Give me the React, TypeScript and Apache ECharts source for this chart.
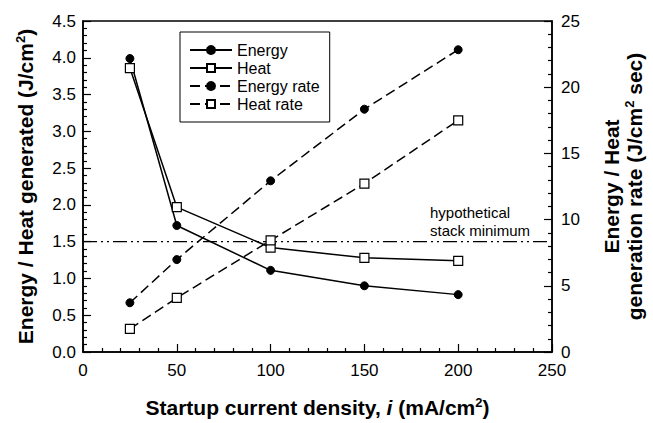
import React, { useEffect, useRef } from 'react';
import * as echarts from 'echarts';

const xValues = [25, 50, 100, 150, 200];
const energy = [3.99, 1.72, 1.11, 0.9, 0.78];
const heat = [3.86, 1.97, 1.42, 1.28, 1.24];
const energyRate = [3.72, 6.98, 12.93, 18.34, 22.83];
const heatRate = [1.75, 4.09, 8.43, 12.72, 17.5];
const stackMinimum = 1.5;
const xRange = [0, 250];
const legendNames = ['Energy', 'Heat', 'Energy rate', 'Heat rate'];

const FONT = '"Liberation Sans", Arial, Helvetica, sans-serif';

export default function App() {
  const ref = useRef<HTMLDivElement>(null);
  useEffect(() => {
    if (!ref.current) return;
    const chart = echarts.init(ref.current, undefined, { renderer: 'svg' });
    const pts = (ys: number[]) => xValues.map((x, i) => [x, ys[i]]);
    const solid = { color: '#000', width: 1.5 };
    const dashed = { color: '#000', width: 1.5, type: [10, 5] as any };
    const circleStyle = { color: '#000', borderColor: '#000', borderWidth: 1 };
    const squareStyle = { color: '#fff', borderColor: '#000', borderWidth: 1.2 };
    const titleRich = {
      b: { fontSize: 21, fontWeight: 'bold', fontFamily: FONT, color: '#000', lineHeight: 23 },
      i: { fontSize: 21, fontWeight: 'bold', fontStyle: 'italic', fontFamily: FONT, color: '#000', lineHeight: 23 },
      s: { fontSize: 13, fontWeight: 'bold', fontFamily: FONT, color: '#000', verticalAlign: 'top', lineHeight: 12 },
    };
    const labelStyle = { fontSize: 17, fontFamily: FONT, color: '#000' };
    chart.setOption({
      animation: false,
      backgroundColor: '#fff',
      grid: { left: 83, right: 94, top: 21, bottom: 68, show: true, borderColor: '#000', borderWidth: 1.5, backgroundColor: 'transparent' },
      legend: {
        data: legendNames,
        orient: 'vertical',
        left: 180,
        top: 32,
        padding: [10, 10, 10, 9],
        itemGap: 2,
        itemWidth: 42,
        itemHeight: 10,
        borderColor: '#000',
        borderWidth: 1,
        backgroundColor: '#fff',
        textStyle: { fontSize: 16, fontFamily: FONT, color: '#000' },
      },
      xAxis: {
        type: 'value',
        min: xRange[0],
        max: xRange[1],
        interval: 50,
        name: '{b|Startup current density, }{i|i}{b| (mA/cm}{s|2}{b|)}',
        nameLocation: 'middle',
        nameGap: 44,
        nameTextStyle: { rich: titleRich },
        axisLine: { lineStyle: { color: '#000', width: 1.5 } },
        axisTick: { inside: true, length: 8, lineStyle: { color: '#000', width: 1.2 } },
        minorTick: { show: true, splitNumber: 5, length: 4, lineStyle: { color: '#000', width: 1.2 } },
        axisLabel: { ...labelStyle, margin: 10 },
        splitLine: { show: false },
        minorSplitLine: { show: false },
      },
      yAxis: [
        {
          type: 'value',
          min: 0,
          max: 4.5,
          interval: 0.5,
          position: 'left',
          name: '{b|Energy / Heat generated (J/cm}{s|2}{b|)}',
          nameLocation: 'middle',
          nameGap: 46,
          nameTextStyle: { rich: titleRich },
          axisLine: { show: true, lineStyle: { color: '#000', width: 1.5 } },
          axisTick: { show: true, inside: true, length: 8, lineStyle: { color: '#000', width: 1.2 } },
          minorTick: { show: true, splitNumber: 5, length: 4, lineStyle: { color: '#000', width: 1.2 } },
          axisLabel: { ...labelStyle, margin: 7, formatter: (v: number) => v.toFixed(1) },
          splitLine: { show: false },
          minorSplitLine: { show: false },
        },
        {
          type: 'value',
          min: 0,
          max: 25,
          interval: 5,
          position: 'right',
          name: '{b|Energy / Heat}\n{b|generation rate (J/cm}{s|2}{b| sec)}',
          nameLocation: 'middle',
          nameGap: 48,
          nameTextStyle: { rich: titleRich },
          axisLine: { show: true, lineStyle: { color: '#000', width: 1.5 } },
          axisTick: { show: true, inside: true, length: 8, lineStyle: { color: '#000', width: 1.2 } },
          minorTick: { show: true, splitNumber: 5, length: 4, lineStyle: { color: '#000', width: 1.2 } },
          axisLabel: { ...labelStyle, margin: 9 },
          splitLine: { show: false },
          minorSplitLine: { show: false },
        },
      ],
      graphic: [
        {
          type: 'text',
          left: 430,
          top: 203,
          style: { text: 'hypothetical\nstack minimum', fontSize: 15, lineHeight: 18, fontFamily: FONT, fill: '#000' },
        },
      ],
      series: [
        {
          name: 'stack minimum',
          type: 'line',
          yAxisIndex: 0,
          data: [[xRange[0], stackMinimum], [xRange[1], stackMinimum]],
          symbol: 'none',
          silent: true,
          lineStyle: { color: '#000', width: 1.2, type: [14, 4, 2, 4, 2, 4] },
          z: 1,
        },
        {
          name: 'Energy',
          type: 'line',
          yAxisIndex: 0,
          data: pts(energy),
          symbol: 'circle',
          symbolSize: 8,
          itemStyle: circleStyle,
          lineStyle: solid,
        },
        {
          name: 'Heat',
          type: 'line',
          yAxisIndex: 0,
          data: pts(heat),
          symbol: 'rect',
          symbolSize: 9,
          itemStyle: squareStyle,
          lineStyle: solid,
        },
        {
          name: 'Energy rate',
          type: 'line',
          yAxisIndex: 1,
          data: pts(energyRate),
          symbol: 'circle',
          symbolSize: 8,
          itemStyle: circleStyle,
          lineStyle: dashed,
        },
        {
          name: 'Heat rate',
          type: 'line',
          yAxisIndex: 1,
          data: pts(heatRate),
          symbol: 'rect',
          symbolSize: 9,
          itemStyle: squareStyle,
          lineStyle: dashed,
        },
      ],
    });
    return () => chart.dispose();
  }, []);
  return <div ref={ref} style={{ position: 'absolute', left: 0, top: 0, width: 653, height: 423 }} />;
}
